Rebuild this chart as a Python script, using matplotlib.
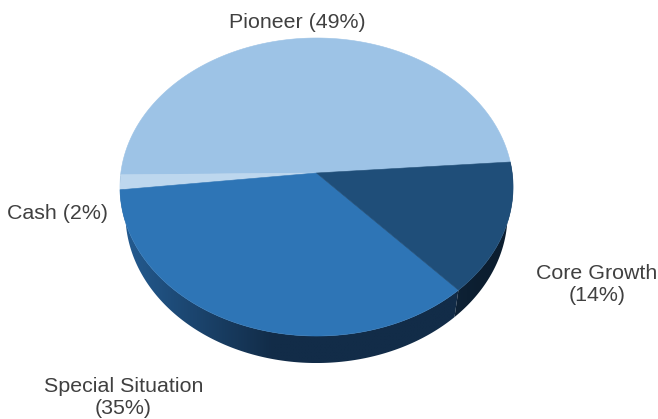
import matplotlib
matplotlib.use('Agg')
import matplotlib.pyplot as plt
import matplotlib.colors as mcolors
from matplotlib.patches import Polygon
import numpy as np

plt.rcParams['font.family'] = ['Liberation Sans', 'DejaVu Sans']

labels = ['Pioneer (49%)', 'Cash (2%)', 'Special Situation\n(35%)', 'Core Growth\n(14%)']
shares = [49, 1.6, 35, 14.4]
top_colors = ['#9DC3E6', '#BDD7EE', '#2E75B6', '#1F4E79']
# side wall gradient, left end and right end of each slice
side_colors = [('#6f97bd', '#6f97bd'), ('#245c92', '#245c92'), ('#245c92', '#122c48'), ('#0e2236', '#0c1e30')]
label_pos = [(297.5, 22.5), (57.5, 213), (123.5, 397.5), (597, 284.5)]

start_angle = 4.3
apex_x, apex_y = 316.5, 173
rx, ry, tilt = 195.7, 147.7, 0.094
depth = 27
side_shrink = 0.972
gradient_stop = 0.45  # part of the slice width where the dark end is reached


# tilted disc: unit circle -> picture coordinates with a bit of perspective
def rim(theta, lower=False):
    t = np.radians(theta)
    u, v = np.cos(t), np.sin(t)
    w = 1 + tilt * v
    x = rx * u / w
    y = -ry * v / w
    if lower:
        return apex_x + x * side_shrink, apex_y + y + depth
    return apex_x + x, apex_y + y


fig = plt.figure(figsize=(6.58, 4.19), dpi=100)
ax = fig.add_axes([0, 0, 1, 1])
ax.axis('off')

edges = start_angle + np.concatenate([[0], np.cumsum(shares)]) * 3.6

# side wall first, only the front half shows
for i in range(len(shares)):
    a0, a1 = max(edges[i], 180), edges[i + 1]
    if a1 <= a0:
        continue
    th = np.linspace(a0, a1, 200)
    xt, yt = rim(th)
    xb, yb = rim(th, True)
    outline = Polygon(list(zip(xt, yt)) + list(zip(xb[::-1], yb[::-1])), closed=True,
                      facecolor='none', edgecolor='none', transform=ax.transData)
    ax.add_patch(outline)
    left, right = min(xt.min(), xb.min()), max(xt.max(), xb.max())
    c0 = np.array(mcolors.to_rgb(side_colors[i][0]))
    c1 = np.array(mcolors.to_rgb(side_colors[i][1]))
    f = np.clip(np.linspace(0, 1, 256) / gradient_stop, 0, 1)[:, None]
    grad = (c0 + (c1 - c0) * f)[None, :, :]
    im = ax.imshow(grad, extent=(left, right, yb.max(), yt.min()), aspect='auto', interpolation='bilinear')
    im.set_clip_path(outline)

# top face
for i in range(len(shares)):
    th = np.linspace(edges[i], edges[i + 1], 200)
    xs, ys = rim(th)
    pts = [(apex_x, apex_y)] + list(zip(xs, ys))
    ax.add_patch(Polygon(pts, closed=True, facecolor=top_colors[i], edgecolor=top_colors[i], linewidth=0.4))

for lab, (lx, ly) in zip(labels, label_pos):
    ax.text(lx, ly, lab, ha='center', va='center', fontsize=15.4, color='#404040', linespacing=1.2)

ax.set_xlim(0, 658)
ax.set_ylim(419, 0)

fig.savefig('out.png', dpi=100, facecolor='white')
